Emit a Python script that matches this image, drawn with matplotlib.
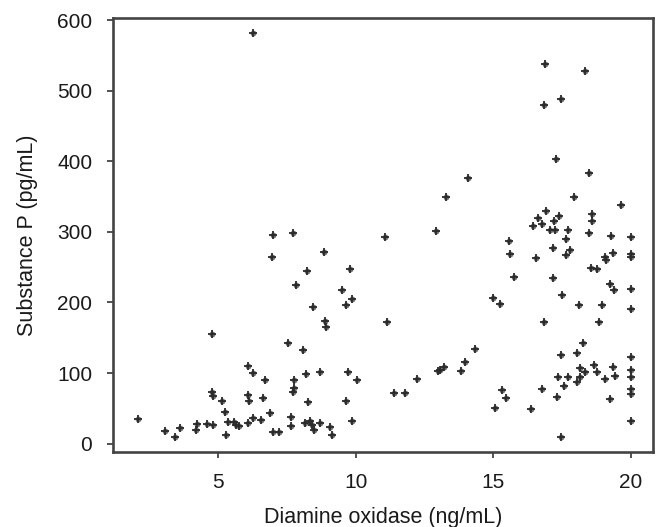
import matplotlib

matplotlib.use("Agg")

import matplotlib.pyplot as plt

# Diamine oxidase (ng/mL) vs Substance P (pg/mL).
dao = [
    2.1, 3.07, 3.43, 3.63, 4.22, 4.2, 4.59, 4.83, 4.77, 4.79, 4.83, 5.13, 5.25, 5.29,
    5.37, 5.56, 5.65, 5.74, 6.07, 6.07, 6.13, 6.07, 6.25, 6.25, 6.56, 6.64, 6.70, 6.87,
    6.99, 7.22, 6.99, 6.94, 7.53, 7.65, 7.65, 7.73, 7.74, 7.75, 7.72, 7.84, 8.07, 8.2,
    8.24, 8.27, 8.16, 8.35, 8.41, 8.47, 8.71, 8.43, 8.70, 8.83, 8.88, 8.9, 9.05, 9.12,
    9.51, 9.63, 9.63, 9.73, 9.78, 9.85, 9.86, 10.03, 6.28,
    11.05, 11.13, 11.39, 11.79, 12.22, 12.92, 13.0, 13.07, 13.19, 13.28, 13.82, 13.98,
    14.07, 14.33, 14.97, 15.07, 15.23, 15.32, 15.47, 15.57, 15.6, 15.75,
    16.87, 18.32, 17.44, 16.85, 17.28, 18.47, 17.93, 19.65, 16.9, 16.61, 16.44, 16.75,
    17.21, 17.39, 18.59, 18.59, 17.07, 17.23, 17.7, 17.65, 18.47, 19.27, 20.0, 17.15,
    17.77, 17.64, 19.34, 20.0, 20.0, 16.55, 19.05, 19.1, 18.54, 18.75, 17.15, 19.24,
    19.37, 20.0, 17.5, 18.1, 18.93, 20.0, 16.83, 18.85, 18.24, 18.02, 17.44, 20.0,
    18.14, 18.31, 18.65, 18.75, 19.35, 19.4, 19.04, 17.36, 17.72, 18.16, 18.04, 17.58,
    20.0, 20.0, 20.0, 20.0, 16.75, 17.3, 19.24, 16.36, 20.0, 17.44,
]
substance_p = [
    35, 18, 9, 22, 28, 20, 28, 26, 156, 73, 67, 60, 45, 13,
    31, 31, 27, 25, 110, 69, 61, 30, 100, 37, 33, 65, 90, 44,
    16, 17, 296, 265, 142, 38, 25, 298, 90, 79, 73, 225, 132, 98,
    245, 59, 29, 32, 26, 20, 29, 194, 101, 271, 174, 165, 23, 12,
    218, 196, 61, 101, 248, 205, 32, 90, 581,
    293, 173, 72, 72, 92, 301, 103, 105, 108, 349, 103, 116,
    376, 134, 206, 50, 198, 76, 65, 287, 268, 236,
    538, 528, 488, 479, 403, 384, 350, 338, 329, 320, 309, 311,
    316, 322, 326, 316, 302, 302, 302, 290, 298, 294, 293, 277,
    274, 267, 270, 268, 264, 263, 264, 260, 249, 247, 234, 226,
    217, 219, 211, 196, 196, 191, 173, 172, 142, 129, 126, 123,
    107, 101, 111, 102, 109, 96, 92, 94, 95, 94, 88, 82,
    105, 94, 77, 70, 77, 66, 63, 49, 32, 9,
]

x_ticks = [5, 10, 15, 20]
y_ticks = [0, 100, 200, 300, 400, 500, 600]

plt.rcParams["font.family"] = ["Liberation Sans", "DejaVu Sans"]

fig = plt.figure(figsize=(6.61, 5.27), dpi=100)
ax = fig.add_axes([0.171, 0.142, 0.817, 0.824])

# blurred asterisk look: a soft dot with a plus on top
ax.plot(dao, substance_p, linestyle="none", marker="o", markersize=4.2,
        color="#555555", markeredgewidth=0, alpha=0.85)
ax.plot(dao, substance_p, linestyle="none", marker="+", markersize=6,
        color="#2a2a2a", markeredgewidth=1.3)

ax.set_xlim(1.18, 20.8)
ax.set_ylim(-12, 603)
ax.set_xticks(x_ticks)
ax.set_yticks(y_ticks)

for spine in ax.spines.values():
    spine.set_color("#444444")
    spine.set_linewidth(1.9)

ax.tick_params(axis="both", direction="out", length=4, width=1.3, color="#444444",
               labelsize=15, labelcolor="#1a1a1a")
ax.tick_params(axis="y", pad=11)
ax.tick_params(axis="x", pad=11)

ax.set_xlabel("Diamine oxidase (ng/mL)", fontsize=15.5, color="#1a1a1a", labelpad=11)
ax.set_ylabel("Substance P (pg/mL)", fontsize=15.5, color="#1a1a1a", labelpad=14)

fig.savefig("out.png", dpi=100)
